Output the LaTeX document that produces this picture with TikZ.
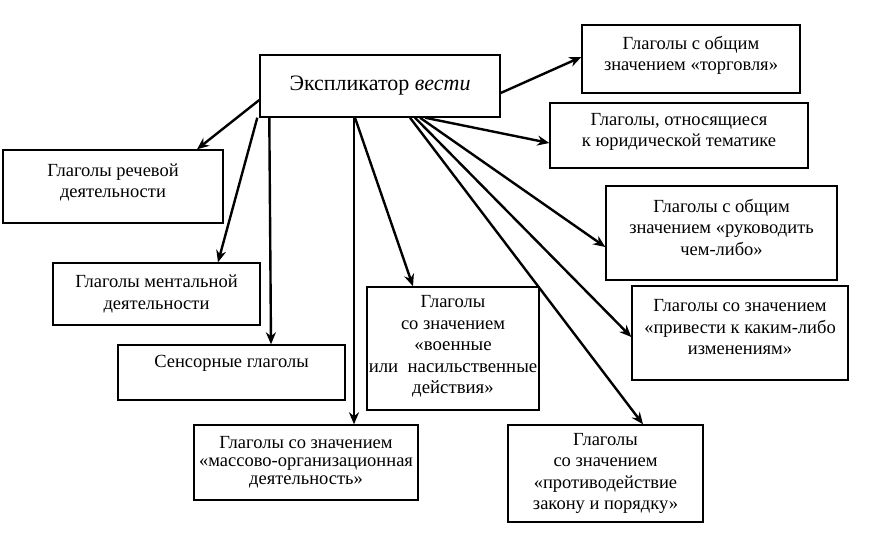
\documentclass[tikz,border=0pt]{standalone}
\usepackage{fontspec}
\setmainfont{Liberation Serif}
\usetikzlibrary{arrows.meta}
\begin{document}
\begin{tikzpicture}[x=1pt,y=-1pt,
  box/.style={draw, line width=1.4pt, inner sep=0pt, align=center,
    font=\fontsize{18.5}{21.5}\selectfont},
  arr/.style={line width=2.4pt, -{Stealth[length=12pt,width=10pt]}}]
\useasboundingbox (0,0) rectangle (883,538);
% boxes
\node[box, minimum width=240pt, minimum height=62pt, font=\fontsize{22}{24}\selectfont] (c) at (380,86) {Экспликатор \textit{вести}};
\node[box, minimum width=218pt, minimum height=68pt] (torg) at (691,59) {Глаголы с общим\\значением «торговля»\\[-10pt]\mbox{}};
\node[box, minimum width=258pt, minimum height=65pt] (jur) at (679,135.5) {Глаголы, относящиеся\\к юридической тематике\\[-10pt]\mbox{}};
\node[box, minimum width=231pt, minimum height=94pt] (ruk) at (721.5,233) {Глаголы с общим\\значением «руководить\\чем-либо»\\[-10pt]\mbox{}};
\node[box, minimum width=216pt, minimum height=94pt] (priv) at (740,333) {Глаголы со значением\\«привести к каким-либо\\изменениям»\\[-10pt]\mbox{}};
\node[box, minimum width=220pt, minimum height=73pt] (rech) at (113,186.5) {Глаголы речевой\\деятельности\\[-10pt]\mbox{}};
\node[box, minimum width=207pt, minimum height=62pt] (ment) at (156.5,294) {Глаголы ментальной\\деятельности};
\node[box, minimum width=227pt, minimum height=55pt, text depth=22pt] (sens) at (231.5,372.5) {Сенсорные глаголы};
\node[box, minimum width=172pt, minimum height=123pt] (voen) at (453,348.5) {Глаголы\\со значением\\{\fontsize{18.8}{21.5}\selectfont «военные}\\{\fontsize{18.8}{21.5}\selectfont или\ \ насильственные}\\{\fontsize{18.8}{21.5}\selectfont действия»}\\[-14pt]\mbox{}};
\node[box, minimum width=224pt, minimum height=75pt, font=\fontsize{18.5}{18}\selectfont] (mass) at (306,462.5) {Глаголы со значением\\«массово-организационная\\деятельность»};
\node[box, minimum width=195pt, minimum height=97pt] (prot) at (605.5,473.5) {Глаголы\\со значением\\«противодействие\\закону и порядку»};
% start points on the central box
\coordinate (s1) at ([yshift=-7pt]c.east);
\coordinate (s2) at ([xshift=45pt]c.south);
\coordinate (s3) at ([xshift=40pt]c.south);
\coordinate (s4) at ([xshift=35pt]c.south);
\coordinate (s5) at ([xshift=30pt]c.south);
\coordinate (s6) at ([xshift=-25pt]c.south);
\coordinate (s7) at ([xshift=-26pt]c.south);
\coordinate (s8) at ([xshift=10pt]c.south west);
\coordinate (s9) at ([xshift=-2pt]c.south west);
\coordinate (s10) at ([yshift=-14pt]c.west);
% connectors
\draw[arr] (s1) -- ([yshift=2pt]torg.west);
\draw[arr] (s2) -- ([yshift=-7.5pt]jur.west);
\draw[arr] (s3) -- ([yshift=-14pt]ruk.west);
\draw[arr] (s4) -- ([yshift=-4pt]priv.west);
\draw[arr] (s5) -- ([xshift=37.5pt]prot.north);
\draw[arr] (s6) -- ([xshift=-40pt]voen.north);
\draw[arr] (s7) -- ([xshift=48pt]mass.north);
\draw[arr] (s8) -- ([xshift=39.5pt]sens.north);
\draw[arr] (s9) -- ([xshift=61.5pt]ment.north);
\draw[arr] (s10) -- ([xshift=84pt]rech.north);
\end{tikzpicture}
\end{document}
